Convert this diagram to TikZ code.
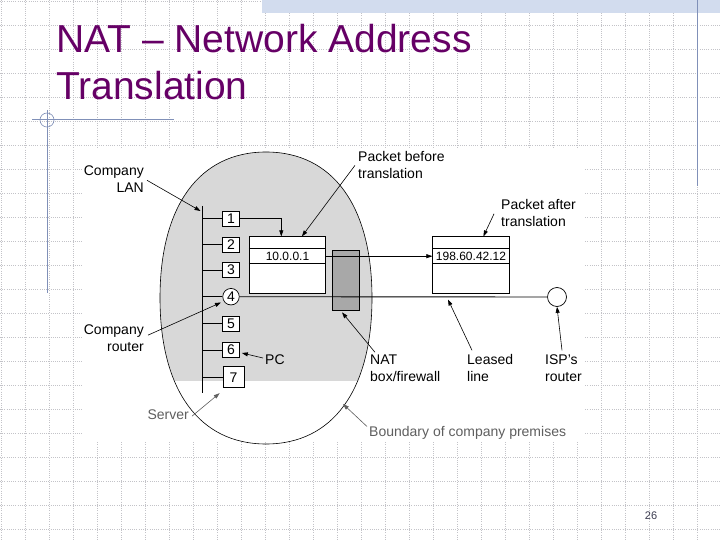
\documentclass[tikz,border=0pt]{standalone}
\usepackage{fontspec}
\setmainfont{Liberation Sans}
\usetikzlibrary{arrows.meta,calc}
\definecolor{titlepurple}{RGB}{102,0,102}
\definecolor{gridc}{RGB}{195,195,200}
\definecolor{decoblue}{RGB}{128,144,184}
\definecolor{bandc}{RGB}{210,220,238}
\definecolor{lanfill}{RGB}{216,216,216}
\definecolor{natfill}{RGB}{168,168,168}
\definecolor{labgray}{RGB}{95,95,95}
\definecolor{pagenum}{RGB}{60,60,80}
\tikzset{
  gridline/.style={gridc, line width=0.6pt, dash pattern=on 1pt off 1.2pt},
  deco/.style={decoblue, line width=0.8pt},
  lbl/.style={inner sep=0pt, font=\fontsize{14}{17}\selectfont},
  graylbl/.style={lbl, text=labgray},
  hostbox/.style={draw, fill=white, line width=0.7pt, minimum width=17pt, minimum height=15pt, inner sep=0pt, font=\fontsize{14}{14}\selectfont},
  pkt/.style={draw, fill=white, line width=0.7pt, minimum width=76.5pt, minimum height=56.5pt, inner sep=0pt},
  iptext/.style={inner sep=0pt, font=\fontsize{12}{12}\selectfont},
  arr/.style={line width=0.6pt, -{Triangle[length=6pt,width=4pt]}},
  grayarr/.style={arr, labgray},
  wire/.style={line width=0.9pt},
  boundary/.style={line width=0.6pt},
}
\begin{document}
\begin{tikzpicture}[x=1pt,y=-1pt]
\useasboundingbox (0,0) rectangle (720,540);
\fill[white] (0,0) rectangle (720,540);
% background grid
\foreach \i in {0,...,29} \draw[gridline] ({24*\i+1},0) -- ({24*\i+1},540);
\foreach \j in {0,...,22} \draw[gridline] (0,{24*\j+1}) -- (720,{24*\j+1});
% decorations
\fill[bandc] (262,0) rectangle (720,13);
\draw[deco] (697,0) -- (697,186);
\draw[deco] (32,119) -- (174,119);
\draw[deco] (47,110) -- (47,293);
\draw[deco, line width=0.6pt] (47,120) circle (7);
% title
\node[anchor=base west, inner sep=0pt, text=titlepurple, font=\fontsize{39}{47}\selectfont] (t1) at (56,53) {NAT – Network Address};
\node[anchor=base west, inner sep=0pt, text=titlepurple, font=\fontsize{39}{47}\selectfont] (t2) at (56,100) {Translation};
% page number
\node[inner sep=0pt, text=pagenum, font=\fontsize{11}{11}\selectfont] (pg) at (651,516) {26};
% figure area
\fill[white] (82,148) rectangle (585,442);
\begin{scope}
  \clip (82,148) rectangle (585,380.5);
  \fill[lanfill] (372,298) .. controls (372,390) and (332.8,444) .. (266,444)
     .. controls (199.2,444) and (160,390) .. (160,298)
     .. controls (160,206) and (199.2,152) .. (266,152)
     .. controls (332.8,152) and (372,206) .. (372,298) -- cycle;
\end{scope}
\draw[boundary] (372,298) .. controls (372,390) and (332.8,444) .. (266,444)
     .. controls (199.2,444) and (160,390) .. (160,298)
     .. controls (160,206) and (199.2,152) .. (266,152)
     .. controls (332.8,152) and (372,206) .. (372,298) -- cycle;
% NAT box
\node[draw, fill=natfill, line width=0.7pt, minimum width=26.5pt, minimum height=60pt, inner sep=0pt] (nat) at (346,280) {};
% bus
\coordinate (bustop) at (202.5,206);
\coordinate (busbot) at (202.5,393);
\draw[wire] (bustop) -- (busbot);
% hosts
\node[hostbox] (h1) at (231,218.5) {1};
\node[hostbox] (h2) at (231,244.5) {2};
\node[hostbox] (h3) at (231,270) {3};
\node[draw, circle, fill=white, line width=0.7pt, minimum size=16.5pt, inner sep=0pt, font=\fontsize{14}{14}\selectfont] (h4) at (231,296.7) {4};
\node[hostbox] (h5) at (231,323.7) {5};
\node[hostbox] (h6) at (231,350) {6};
\node[hostbox, minimum width=21pt, minimum height=21pt] (h7) at (233.5,377.3) {7};
\foreach \h in {h1,h2,h3,h4,h5,h6,h7} \draw[wire] (bustop |- \h.west) -- (\h.west);
% packets
\node[pkt] (p1) at (287.5,265) {};
\draw[line width=0.7pt] ($(p1.north west)+(0,12.3)$) -- ($(p1.north east)+(0,12.3)$);
\draw[line width=0.7pt] ($(p1.north west)+(0,26.6)$) -- ($(p1.north east)+(0,26.6)$);
\node[iptext] (ip1) at (287.5,256) {10.0.0.1};
\node[pkt] (p2) at (471,265) {};
\draw[line width=0.7pt] ($(p2.north west)+(0,12.3)$) -- ($(p2.north east)+(0,12.3)$);
\draw[line width=0.7pt] ($(p2.north west)+(0,26.6)$) -- ($(p2.north east)+(0,26.6)$);
\node[iptext] (ip2) at (471,256) {198.60.42.12};
% ISP router
\node[draw, circle, fill=white, line width=0.7pt, minimum size=19pt, inner sep=0pt] (isp) at (557,297) {};
% connections
\draw[arr] (h1.east) -| ($(p1.north west)+(32.4,0)$);
\draw[arr] ($(p1.north east)+(0,19.8)$) -- ($(p2.north west)+(0,19.8)$);
\draw[wire] (h4.east) -- (isp.west);
% labels
\node[lbl, align=right, anchor=north east] (lanlbl) at (144,165.7) {Company\\LAN};
\coordinate (lantip) at (200.5,211);
\draw[arr] ($(lanlbl.east)+(3,1)$) -- (lantip);
\node[lbl, align=left, anchor=north west] (pbl) at (358,151.5) {Packet before\\translation};
\draw[arr] ($(pbl.west)+(-3,0)$) -- ($(p1.north west)+(53,0)$);
\node[lbl, align=left, anchor=north west] (pal) at (501,199) {Packet after\\translation};
\draw[arr] ($(pal.west)+(-7,1)$) -- ($(p2.north west)+(51,0)$);
\node[lbl, align=right, anchor=north east] (crl) at (144,324.5) {Company\\router};
\coordinate (crtip) at (221,302.5);
\draw[arr] ($(crl.east)+(4,-3)$) -- (crtip);
\node[lbl, anchor=west] (pcl) at (265,360) {PC};
\draw[arr] ($(pcl.west)+(-2,-2)$) -- ($(h6.east)+(2,3)$);
\node[graylbl, anchor=north east] (srv) at (189,410) {Server};
\draw[grayarr] ($(srv.east)+(3,1)$) -- ($(h7.south west)+(-3,5)$);
\node[lbl, align=left, anchor=north west] (natl) at (370,354.3) {NAT\\box/firewall};
\draw[arr] ($(natl.north west)+(5,-2)$) -- ($(nat.south)+(-4,2)$);
\node[lbl, align=left, anchor=north west] (lsl) at (467,354.3) {Leased\\line};
\coordinate (lstip) at (448,299.5);
\draw[arr] ($(lsl.north west)+(5,-4)$) -- (lstip);
\node[lbl, align=left, anchor=north west] (ispl) at (545,354.3) {ISP's\\router};
\draw[arr] ($(ispl.north west)+(17,-4)$) -- (isp.south);
\node[graylbl, anchor=north west] (bnd) at (369,426.5) {Boundary of company premises};
\coordinate (bndtip) at (343,404);
\draw[grayarr] ($(bnd.north west)+(-2,0)$) -- (bndtip);
\end{tikzpicture}
\end{document}
